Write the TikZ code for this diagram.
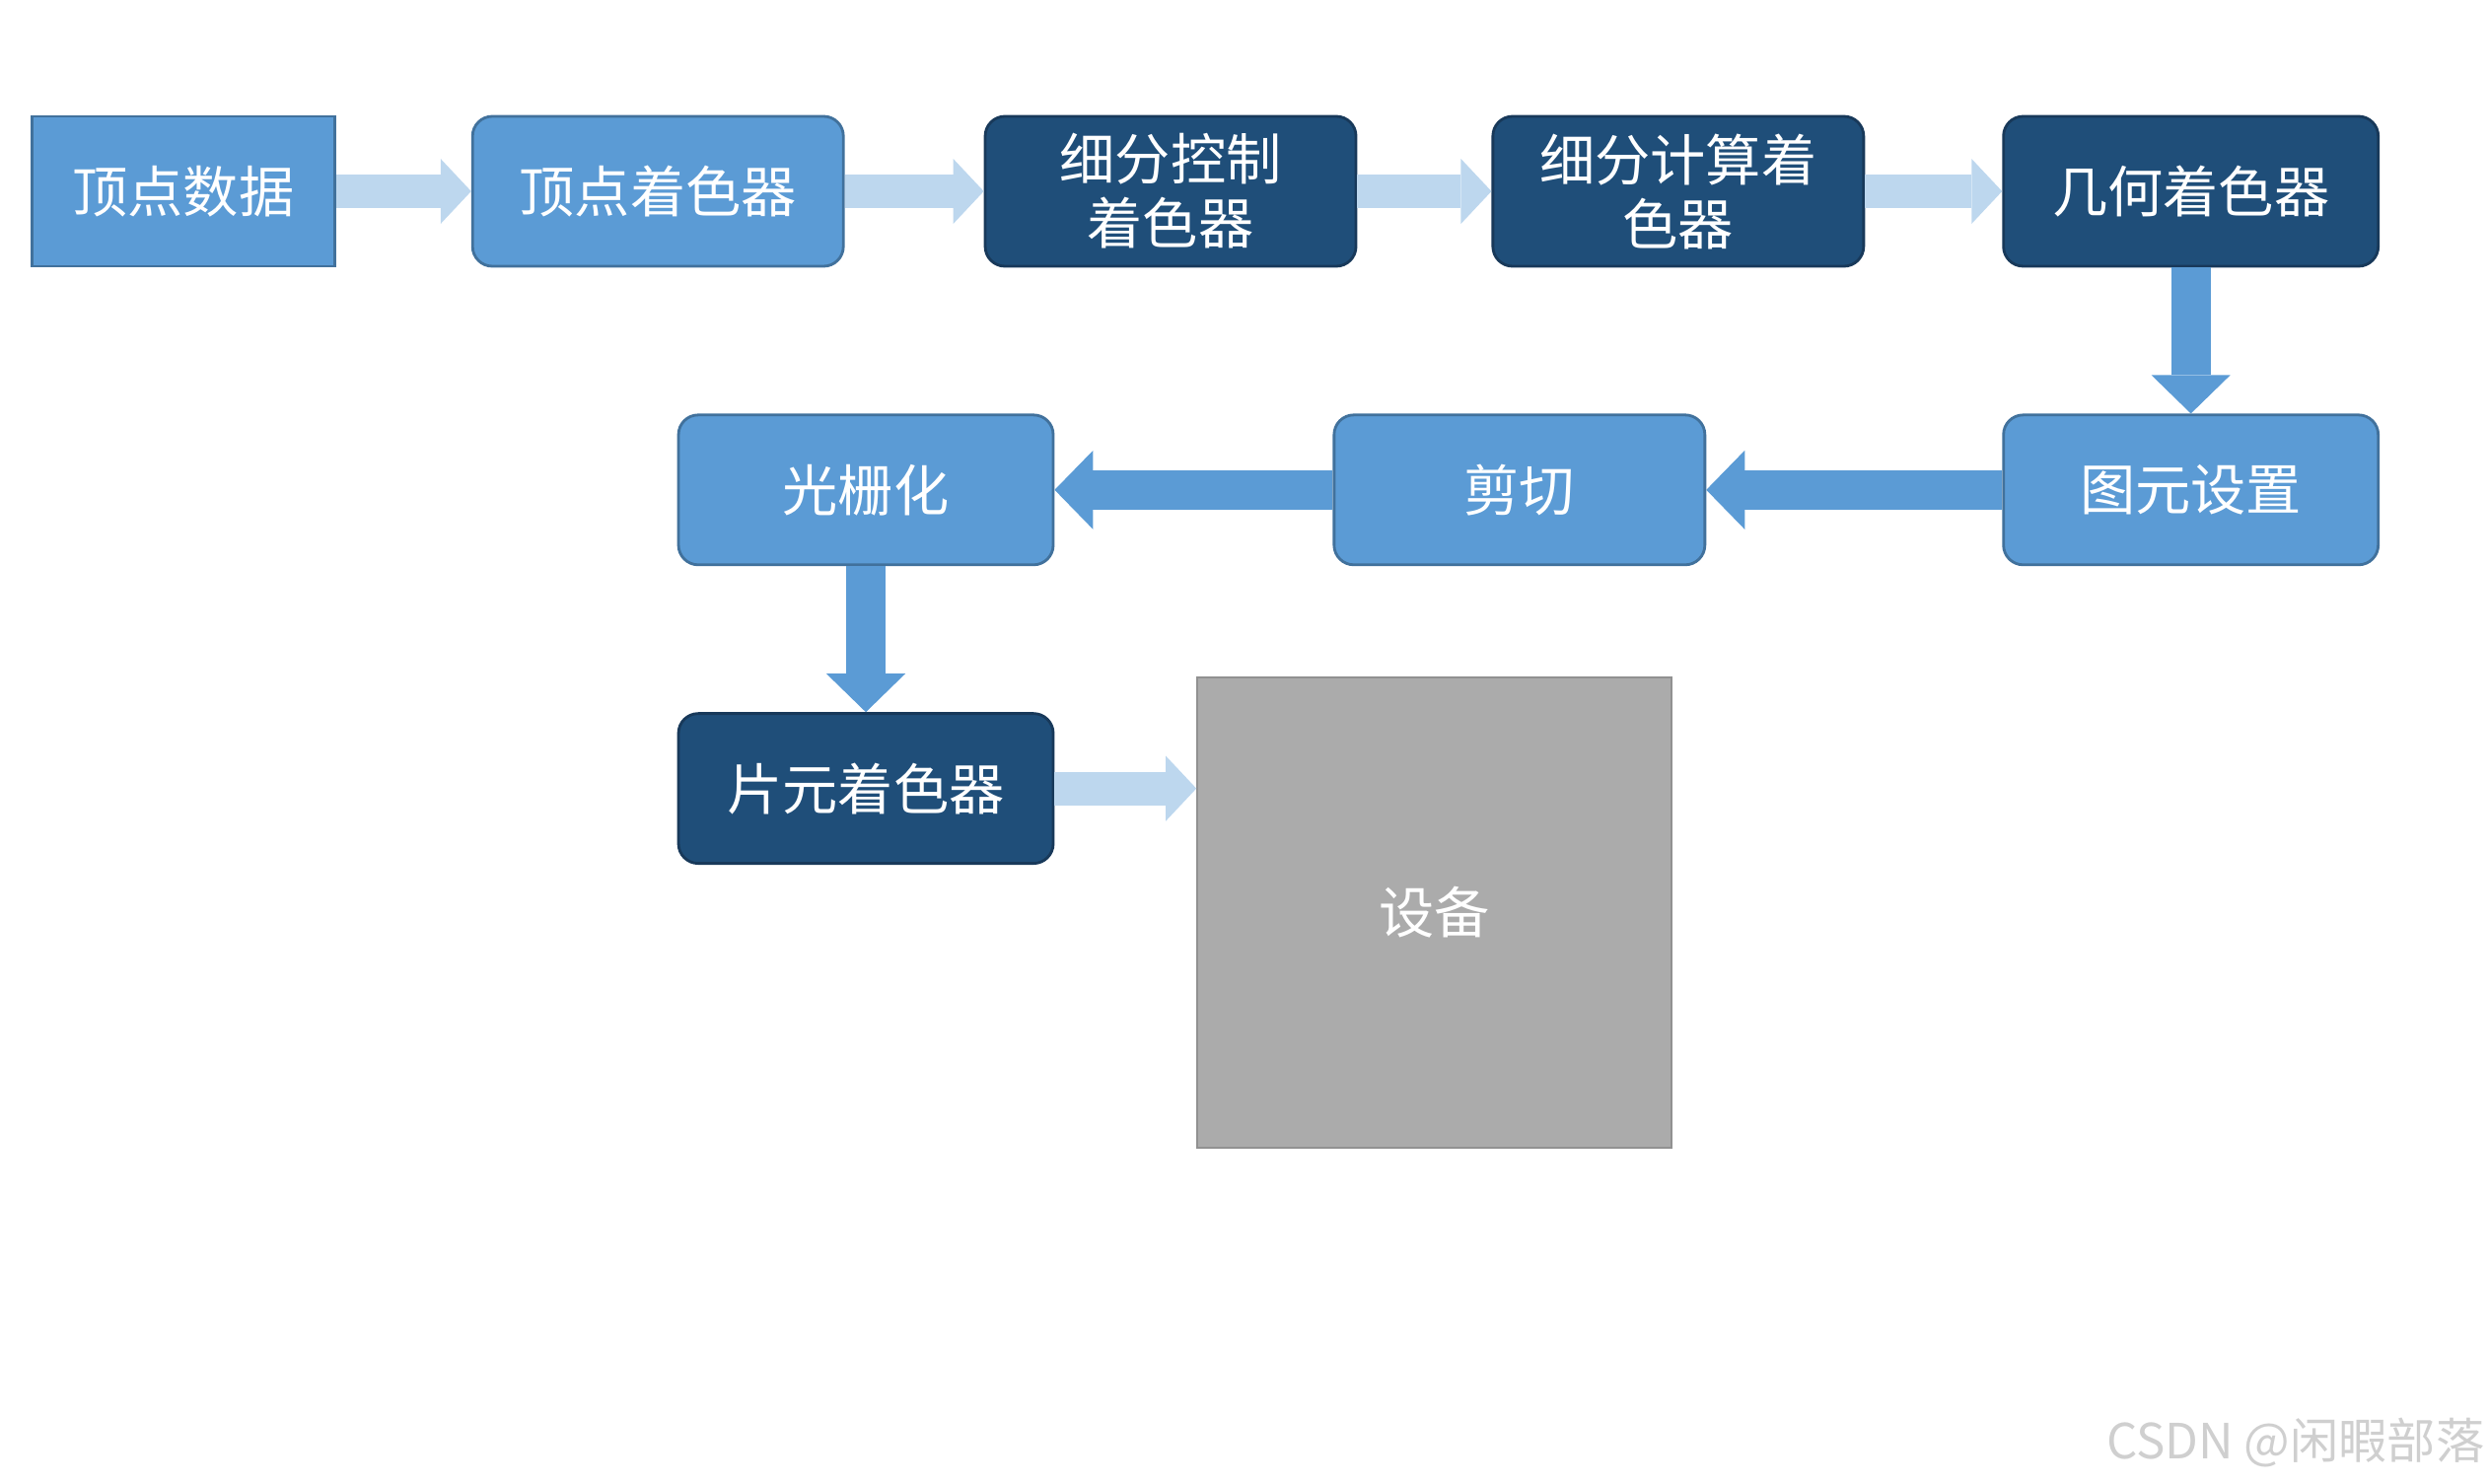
\documentclass[tikz,border=0pt]{standalone}
\usepackage{fontspec}
\setmainfont{Noto Sans CJK SC}
\usetikzlibrary{arrows.meta, positioning}
\definecolor{midblue}{HTML}{5B9BD5}
\definecolor{midedge}{HTML}{41719C}
\definecolor{darkblue}{HTML}{1F4E79}
\definecolor{darkedge}{HTML}{18395A}
\definecolor{paleblue}{HTML}{BDD7EE}
\definecolor{devgray}{HTML}{ABABAB}
\definecolor{markgray}{HTML}{CFCFCF}

\begin{document}
\begin{tikzpicture}[
    node distance=1.48cm and 1.37cm,
    every node/.style={font=\fontsize{16}{18.5}\selectfont, text=white},
    box/.style={rectangle, draw=midedge, fill=midblue, line width=0.8pt,
                rounded corners=0.2cm, align=center, inner sep=0pt,
                minimum width=3.76cm, minimum height=1.52cm},
    darkbox/.style={box, draw=darkedge, fill=darkblue},
    palearr/.style={draw=paleblue, line width=0.34cm,
                    -{Triangle[length=0.31cm, width=0.66cm, line width=0pt]}},
    midarr/.style={draw=midblue, line width=0.40cm,
                   -{Triangle[length=0.39cm, width=0.80cm, line width=0pt]}}
]
\useasboundingbox (0,0) rectangle (25.24,-15.04);

\node[box, sharp corners, minimum width=3.07cm] (vdata) at (1.859,-1.940) {顶点数据};
\node[box, right=1.37cm of vdata]     (vshader) {顶点着色器};
\node[darkbox, right=1.41cm of vshader] (tcs)   {细分控制\\着色器};
\node[darkbox, right=1.36cm of tcs]   (tes)     {细分计算着\\色器};
\node[darkbox, right=1.39cm of tes, minimum width=3.80cm] (geom) {几何着色器};

\node[box, below=of geom, minimum width=3.80cm] (prim) {图元设置};
\node[box, left=3.00cm of prim]    (clip)   {剪切};
\node[box, left=2.82cm of clip, minimum width=3.80cm] (raster) {光栅化};
\node[darkbox, below=of raster, minimum width=3.80cm] (frag) {片元着色器};

\node[rectangle, draw=devgray!85!black, fill=devgray, minimum width=4.81cm,
      minimum height=4.77cm] (device) at (14.544,-9.256) {设备};

\node[text=markgray, anchor=east, inner sep=0pt, font=\fontsize{14}{17}\selectfont]
      (mark) at (25.20,-14.63) {CSDN @闲暇部落};

\draw[palearr] (vdata)   -- (vshader);
\draw[palearr] (vshader) -- (tcs);
\draw[palearr] (tcs)     -- (tes);
\draw[palearr] (tes)     -- (geom);

\draw[midarr] (geom)   -- (prim);
\draw[midarr] (prim)   -- (clip);
\draw[midarr] (clip)   -- (raster);
\draw[midarr] (raster) -- (frag);

\draw[palearr] (frag) -- (frag -| device.west);
\end{tikzpicture}
\end{document}
